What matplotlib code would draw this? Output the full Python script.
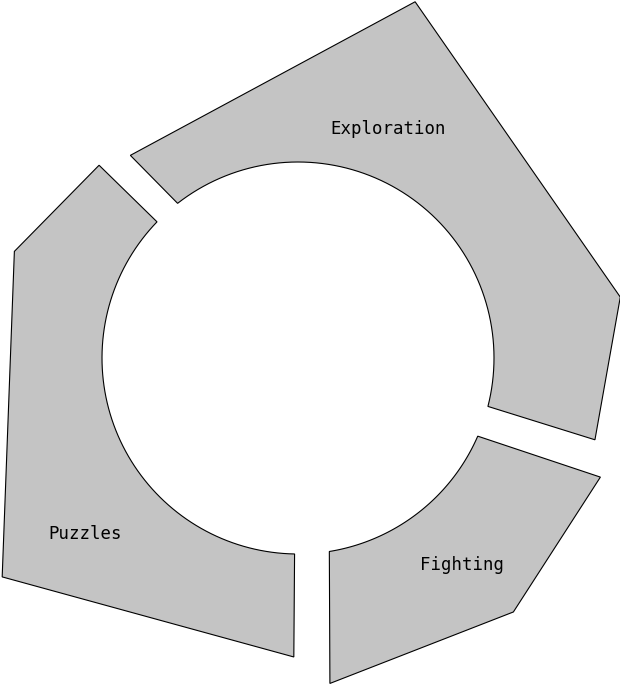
import numpy as np
import matplotlib.pyplot as plt

# segment data: outer boundary vertices (angle deg, radius px), inner arc span
names = ["Exploration", "Fighting", "Puzzles"]
outer_angles = [[129.6, 71.8, 10.7, -15.4],
                [-21.5, -49.7, -84.4],
                [-90.8, -143.5, -200.6, -224.1]]
outer_radii = [[263, 375, 328, 308],
               [325, 333, 327],
               [299, 368, 303, 277]]
inner_span = [(127.9, -14.3), (-23.5, -80.8), (-91.0, -224.0)]
label_pos = [(388, 129), (462, 565), (85, 534)]

cx, cy, r_in = 298, 358, 196

fig = plt.figure(figsize=(6.2, 6.85), dpi=100)
ax = fig.add_axes([0, 0, 1, 1])
ax.set_xlim(0, 620)
ax.set_ylim(685, 0)
ax.set_aspect('equal')
ax.axis('off')

for i, name in enumerate(names):
    a = np.radians(outer_angles[i])
    r = np.array(outer_radii[i])
    xs = list(cx + r * np.cos(a))
    ys = list(cy - r * np.sin(a))
    s, e = inner_span[i]
    arc = np.radians(np.linspace(e, s, 80))
    xs += list(cx + r_in * np.cos(arc))
    ys += list(cy - r_in * np.sin(arc))
    ax.fill(xs, ys, facecolor='#c4c4c4', edgecolor='black', linewidth=0.8)
    ax.text(label_pos[i][0], label_pos[i][1], name, ha='center', va='center',
            fontsize=12.5, family='DejaVu Sans Mono')

fig.savefig("out.png", dpi=100)
